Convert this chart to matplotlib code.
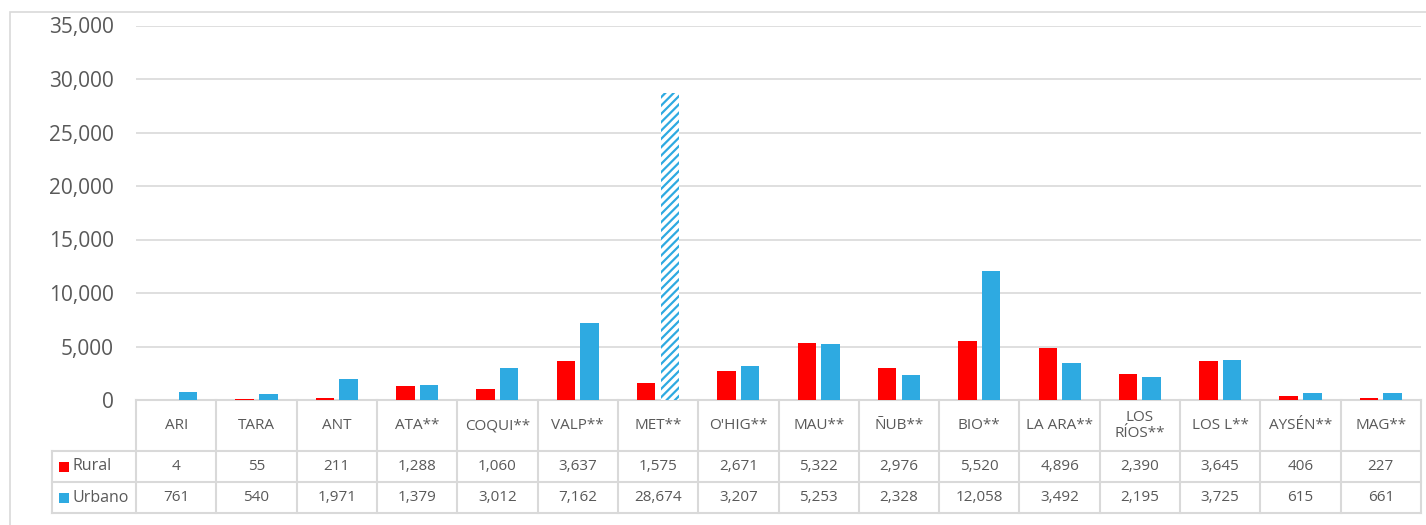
import numpy as np
import matplotlib
matplotlib.use('Agg')
import matplotlib.pyplot as plt
from matplotlib.patches import Rectangle
from matplotlib.ticker import FuncFormatter

plt.rcParams['font.family'] = ['Open Sans', 'DejaVu Sans']
plt.rcParams['hatch.linewidth'] = 1.6

# data
regions = ['ARI', 'TARA', 'ANT', 'ATA**', 'COQUI**', 'VALP**', 'MET**', "O'HIG**",
           'MAU**', 'ÑUB**', 'BIO**', 'LA ARA**', 'LOS\nRÍOS**', 'LOS L**', 'AYSÉN**', 'MAG**']
rural = [4, 55, 211, 1288, 1060, 3637, 1575, 2671, 5322, 2976, 5520, 4896, 2390, 3645, 406, 227]
urbano = [761, 540, 1971, 1379, 3012, 7162, 28674, 3207, 5253, 2328, 12058, 3492, 2195, 3725, 615, 661]
series_names = ['Rural', 'Urbano']
hatched_region = 'MET**'

red = '#FF0000'
blue = '#2EAAE1'
grey_txt = '#595959'
grid_c = '#D9D9D9'

W, H = 1426, 525
fig = plt.figure(figsize=(W / 100, H / 100), dpi=100)

# pixel layout
x_left, x_right = 136, 1421
y_zero, y_top = 400, 25.5
ax = fig.add_axes([x_left / W, 1 - y_zero / H, (x_right - x_left) / W, (y_zero - y_top) / H])
ax_h = y_zero - y_top
px_per_cat = (x_right - x_left) / len(regions)

# outer chart border
fig.patches.append(Rectangle((10 / W, -0.2), 1.2, 1.2 - 12 / H, transform=fig.transFigure,
                             fill=False, edgecolor=grid_c, lw=1.2, zorder=0))

x = np.arange(len(regions))
bw = 18.5 / px_per_cat
off = 11.8 / px_per_cat

ax.bar(x - off, rural, width=bw, color=red, zorder=3)
for i, r in enumerate(regions):
    if r == hatched_region:
        ax.bar(x[i] + off, urbano[i], width=bw, color='white', edgecolor=blue, hatch='////', lw=0, zorder=3)
    else:
        ax.bar(x[i] + off, urbano[i], width=bw, color=blue, zorder=3)

ax.set_xlim(-0.5, len(regions) - 0.5)
ax.set_ylim(0, 35000)
ax.set_yticks(np.arange(0, 35001, 5000))
ax.yaxis.set_major_formatter(FuncFormatter(lambda v, p: f'{int(v):,}'))
ax.tick_params(axis='y', length=0, pad=16, labelsize=15, labelcolor=grey_txt)
ax.set_xticks([])
ax.grid(axis='y', color=grid_c, lw=1.2, zorder=0)
for s in ax.spines.values():
    s.set_visible(False)

# data table below the axes
tr = ax.get_xaxis_transform()
def ay(py):
    return (y_zero - py) / ax_h

rows_py = [400, 451, 482, 513]
left_edge = -0.5 - 84 / px_per_cat
lc = dict(color=grid_c, lw=1.5, transform=tr, clip_on=False, zorder=1)

ax.plot([-0.5, len(regions) - 0.5], [ay(400)] * 2, **lc)
for py in rows_py[1:]:
    ax.plot([left_edge, len(regions) - 0.5], [ay(py)] * 2, **lc)
for b in np.arange(-0.5, len(regions), 1.0):
    ax.plot([b, b], [ay(400), ay(513)], **lc)
ax.plot([left_edge, left_edge], [ay(451), ay(513)], **lc)

for i, r in enumerate(regions):
    ax.text(x[i], ay(425.5), r, transform=tr, ha='center', va='center', fontsize=11,
            color=grey_txt, linespacing=1.15, clip_on=False)
    ax.text(x[i], ay(466.5), f'{rural[i]:,}', transform=tr, ha='center', va='center',
            fontsize=11, color=grey_txt, clip_on=False)
    ax.text(x[i], ay(497.5), f'{urbano[i]:,}', transform=tr, ha='center', va='center',
            fontsize=11, color=grey_txt, clip_on=False)

for name, col, py in [(series_names[0], red, 466.5), (series_names[1], blue, 497.5)]:
    ax.plot([-0.5 - 72 / px_per_cat], [ay(py)], marker='s', ms=7.2, color=col, mew=0,
            transform=tr, clip_on=False)
    ax.text(-0.5 - 64 / px_per_cat, ay(py), name, transform=tr, ha='left', va='center',
            fontsize=11.5, color=grey_txt, clip_on=False)

fig.savefig('out.png', dpi=100)
